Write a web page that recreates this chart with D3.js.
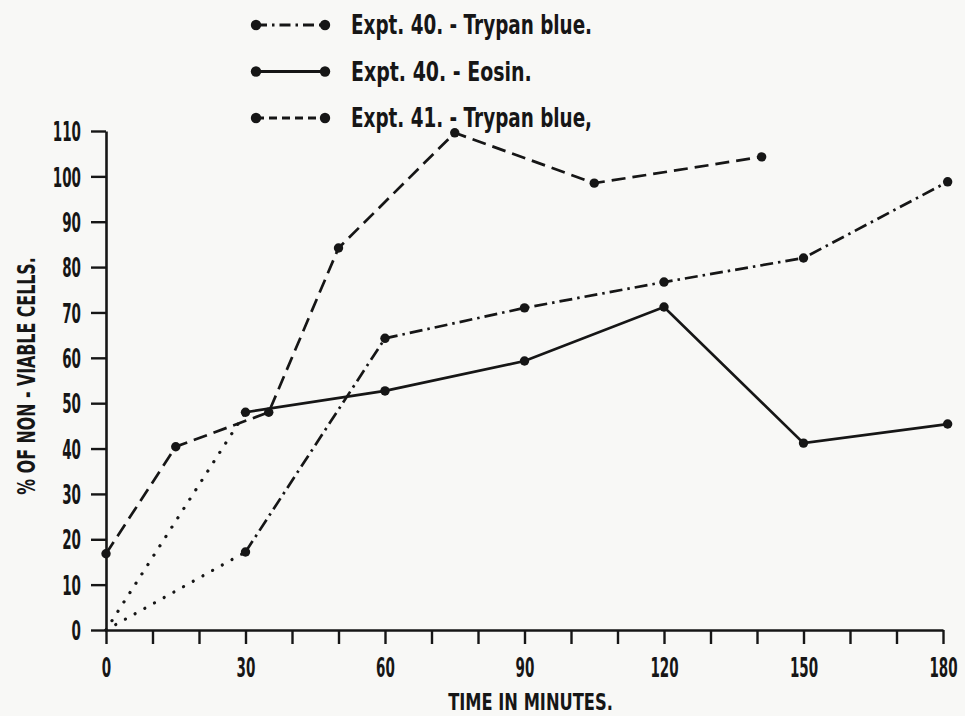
<!DOCTYPE html>
<html>
<head>
<meta charset="utf-8">
<script src="https://cdn.jsdelivr.net/npm/d3@7"></script>
<style>
  html, body { margin: 0; padding: 0; background: #f8f8f6; }
  svg { display: block; }
  text { font-family: "DejaVu Sans", "Liberation Sans", sans-serif; font-weight: bold; fill: #161616; }
</style>
</head>
<body>
<svg id="chart" width="965" height="716"></svg>
<script>
// Expt. 41 – Trypan blue (minutes, % non-viable)
const times41 = [0, 15, 35, 50, 75, 105, 141];
const trypan41 = [16.8, 40.4, 48, 84.2, 109.6, 98.5, 104.3];

// Expt. 40 – counts from 30 min onward
const times40 = [30, 60, 90, 120, 150, 181];
const trypan40 = [17.2, 64.3, 71, 76.7, 82, 98.8];
const eosin40 = [48, 52.7, 59.3, 71.2, 41.2, 45.4];

// Extrapolated start of the Expt. 40 curves
const originTime = 0;
const originValue = 0;

// Axes
const xTickValues = [0, 10, 20, 30, 40, 50, 60, 70, 80, 90, 100, 110, 120, 130, 140, 150, 160, 170, 180];
const xTickLabels = [0, 30, 60, 90, 120, 150, 180];
const yTickValues = [0, 10, 20, 30, 40, 50, 60, 70, 80, 90, 100, 110];

const legendLabels = ["Expt. 40. - Trypan blue.", "Expt. 40. - Eosin.", "Expt. 41. - Trypan blue,"];
const xTitle = "TIME IN MINUTES.";
const yTitle = "% OF NON - VIABLE CELLS.";

const INK = "#161616";
const svg = d3.select("#chart");

const x = d3.scaleLinear().domain([0, 180]).range([106, 943]);
const y = d3.scaleLinear().domain([0, 110]).range([630, 131]);

// narrow lettering: squeeze each string horizontally to a fixed advance per character
function condense(sel, perChar) {
  sel.each(function () {
    const el = d3.select(this);
    const t = el.text();
    if (!t.length) return;
    const natural = this.getComputedTextLength();
    const s = (perChar * t.length) / natural;
    const px = +el.attr("x") || 0;
    const py = +el.attr("y") || 0;
    const base = el.attr("transform") || "";
    el.attr("x", 0).attr("y", 0)
      .attr("transform", `${base} translate(${px},${py}) scale(${s},1)`);
  });
}

// ---- x axis ----
const gx = svg.append("g")
  .attr("transform", `translate(0,${y(0)})`)
  .call(d3.axisBottom(x)
    .tickValues(xTickValues)
    .tickSize(14)
    .tickSizeOuter(0)
    .tickFormat(d => xTickLabels.includes(d) ? String(d) : ""))
  .attr("font-family", null).attr("font-size", null);
gx.select(".domain").attr("stroke", INK).attr("stroke-width", 2.6);
gx.selectAll(".tick line").attr("stroke", INK).attr("stroke-width", 2.4);
gx.selectAll(".tick text")
  .attr("y", 47).attr("dy", null)
  .attr("font-size", 27).attr("fill", INK)
  .call(condense, 9.4);

// ---- y axis ----
const gy = svg.append("g")
  .attr("transform", `translate(${x(0)},0)`)
  .call(d3.axisLeft(y)
    .tickValues(yTickValues)
    .tickSize(15)
    .tickSizeOuter(0)
    .tickFormat(d => String(d)))
  .attr("font-family", null).attr("font-size", null);
gy.select(".domain").attr("stroke", INK).attr("stroke-width", 2.6);
gy.selectAll(".tick line").attr("stroke", INK).attr("stroke-width", 2.4);
gy.selectAll(".tick text")
  .attr("x", -25).attr("dy", "0.36em")
  .attr("font-size", 27).attr("fill", INK)
  .call(condense, 9.4);

// ---- axis titles ----
svg.append("text")
  .attr("x", (x(0) + x(180)) / 2 + 6)
  .attr("y", 710)
  .attr("text-anchor", "middle")
  .attr("font-size", 23)
  .text(xTitle)
  .call(condense, 10.3);

svg.append("text")
  .attr("transform", `translate(35,${y(56)}) rotate(-90)`)
  .attr("text-anchor", "middle")
  .attr("font-size", 25)
  .text(yTitle)
  .call(condense, 9.9);

// ---- series ----
const line = d3.line().x(d => x(d[0])).y(d => y(d[1]));
const pts = (ts, vs) => ts.map((t, i) => [t, vs[i]]);

const series = [
  { data: pts(times40, trypan40), dash: "13,5,2.5,5" },
  { data: pts(times40, eosin40), dash: null },
  { data: pts(times41, trypan41), dash: "14,7" }
];

// dotted extrapolation back to the origin for Expt. 40
[trypan40, eosin40].forEach(vs => {
  svg.append("path")
    .attr("d", line([[originTime, originValue], [times40[0], vs[0]]]))
    .attr("fill", "none")
    .attr("stroke", INK)
    .attr("stroke-width", 3.2)
    .attr("stroke-linecap", "round")
    .attr("stroke-dasharray", "0.1,11");
});

series.forEach(s => {
  svg.append("path")
    .attr("d", line(s.data))
    .attr("fill", "none")
    .attr("stroke", INK)
    .attr("stroke-width", 2.7)
    .attr("stroke-dasharray", s.dash);
  svg.append("g").selectAll("circle")
    .data(s.data)
    .join("circle")
    .attr("cx", d => x(d[0]))
    .attr("cy", d => y(d[1]))
    .attr("r", 4.7)
    .attr("fill", INK);
});

// ---- legend ----
const legend = svg.append("g");
series.forEach((s, i) => {
  const ly = 25 + i * 46.5;
  legend.append("line")
    .attr("x1", 256).attr("x2", 325).attr("y1", ly).attr("y2", ly)
    .attr("stroke", INK).attr("stroke-width", 2.8)
    .attr("stroke-dasharray", s.dash ? (i === 0 ? "11,5,2.5,5" : "8,5") : null);
  [256, 325].forEach(cx => legend.append("circle")
    .attr("cx", cx).attr("cy", ly).attr("r", 5.2).attr("fill", INK));
  legend.append("text")
    .attr("x", 351).attr("y", ly).attr("dy", "0.36em")
    .attr("font-size", 26)
    .text(legendLabels[i])
    .call(condense, 10.05);
});
</script>
</body>
</html>
